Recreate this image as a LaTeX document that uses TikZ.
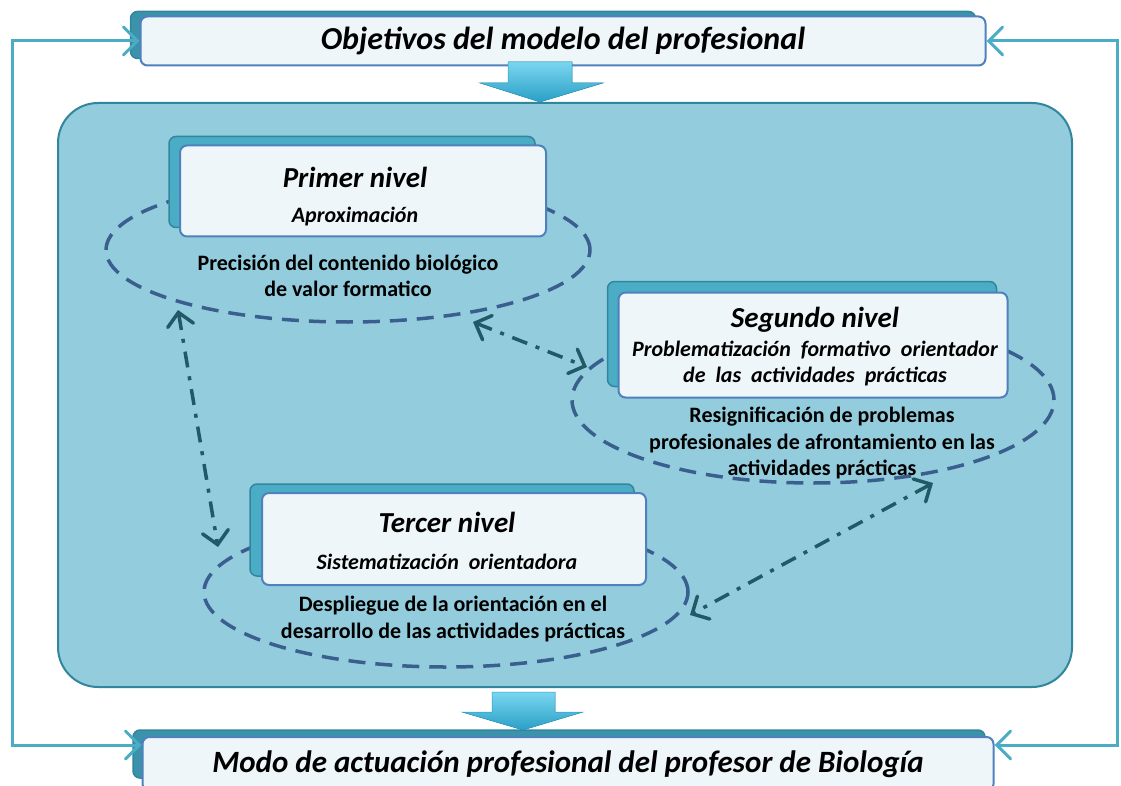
\documentclass[tikz,border=0pt]{standalone}
\usepackage{fontspec}
\setmainfont{Carlito}
\usetikzlibrary{arrows.meta,shapes.geometric,calc}

\definecolor{fondoazul}{HTML}{93CDDD}
\definecolor{bordeteal}{HTML}{31859C}
\definecolor{tealmedio}{HTML}{4BACC6}
\definecolor{tealsombra}{HTML}{3A93AA}
\definecolor{azulcaja}{HTML}{4F81BD}
\definecolor{blanco}{HTML}{EEF6FA}
\definecolor{azulelipse}{HTML}{3A5F8F}
\definecolor{tealoscuro}{HTML}{215968}
\definecolor{cian}{HTML}{4BACC6}
\definecolor{cianclaro}{HTML}{7AD6F0}
\definecolor{cianfuerte}{HTML}{2A9FC6}

\begin{document}
\begin{tikzpicture}[x=1pt,y=-1pt,
	marco/.style={draw=bordeteal, line width=2pt, fill=fondoazul, rounded corners=40pt},
	sombra/.style={draw=bordeteal, line width=1.5pt, fill=tealmedio, rounded corners=7pt, inner sep=0pt},
	sombraext/.style={sombra, fill=tealsombra},
	caja/.style={draw=azulcaja, line width=2pt, fill=blanco, rounded corners=7pt, inner sep=0pt},
	elipse/.style={draw=azulelipse, line width=3.5pt, dash pattern=on 17pt off 10pt, ellipse, inner sep=0pt},
	enlace/.style={draw=tealoscuro, line width=3.5pt, dash pattern=on 16pt off 9pt on 4pt off 9pt,
		{Straight Barb[length=13pt,width=26pt,line cap=round]}-{Straight Barb[length=13pt,width=26pt,line cap=round]}},
	retro/.style={draw=cian, line width=3pt,
		{Straight Barb[length=14pt,width=28pt,line cap=round]}-{Straight Barb[length=14pt,width=28pt,line cap=round]}},
	flecha/.style={top color=cianclaro, bottom color=cianfuerte, draw=cianfuerte, line width=.5pt},
	titulo/.style={font=\fontsize{32}{36}\selectfont\bfseries\itshape},
	nivel/.style={font=\fontsize{29}{33}\selectfont\bfseries\itshape},
	sub/.style={font=\fontsize{22}{26}\selectfont\bfseries\itshape, align=center},
	texto/.style={font=\fontsize{22}{26.5}\selectfont\bfseries, align=center}
	]
	\useasboundingbox (0,0) rectangle (1121,786);

	\node[marco, minimum width=1014pt, minimum height=584pt] (marco) at (565,395) {};

	\node[sombraext, minimum width=845pt, minimum height=47pt] (objetivosF) at (553,35) {};
	\node[caja, minimum width=845pt, minimum height=49pt, titulo] (objetivos) at (563,41) {Objetivos del modelo del profesional};

	\node[sombraext, minimum width=852pt, minimum height=48pt] (modoF) at (559,754) {};
	\node[caja, minimum width=851pt, minimum height=54pt, titulo, font=\fontsize{31}{35}\selectfont\bfseries\itshape] (modo) at (568,764) {Modo de actuación profesional del profesor de Biología};

	\fill[flecha] (508,62) -- (572,62) -- (572,83) -- (603,83) -- (540,102) -- (480,83) -- (508,83) -- cycle;
	\fill[flecha] (492,692) -- (555,692) -- (555,712) -- (583,712) -- (523,730) -- (462,712) -- (492,712) -- cycle;

	\coordinate (izq) at (12,400);
	\coordinate (der) at (1117,400);
	\coordinate (modoIzq) at ([yshift=19pt]modo.west);
	\coordinate (modoDer) at ([yshift=19pt]modo.east);
	\draw[retro] (objetivos.west) -| (izq) |- (modoIzq);
	\draw[retro] (objetivos.east) -| (der) |- (modoDer);

	\node[elipse, minimum width=484pt, minimum height=144pt] (elipA) at (348,250) {};
	\node[elipse, minimum width=482pt, minimum height=166pt] (elipB) at (813,400) {};
	\node[elipse, minimum width=484pt, minimum height=150pt] (elipC) at (446,592) {};

	\node[sombra, minimum width=366pt, minimum height=91pt] (primerF) at (352,182) {};
	\node[caja, minimum width=366pt, minimum height=91pt] (primer) at (363,191) {};
	\node[nivel] (primerT) at (355,177) {Primer nivel};
	\node[sub] (primerS) at (355,217) {Aproximación};
	\node[texto] (primerX) at (348,276) {Precisión del contenido biológico\\de valor formatico};

	\node[sombra, minimum width=389pt, minimum height=105pt] (segundoF) at (802,334) {};
	\node[caja, minimum width=389pt, minimum height=105pt] (segundo) at (813,345) {};
	\node[nivel] (segundoT) at (815,320) {Segundo nivel};
	\node[sub] (segundoS) at (815,364) {Problematización \ formativo \ orientador\\de \ las \ actividades \ prácticas};
	\node[texto] (segundoX) at (822,443) {Resignificación de problemas\\profesionales de afrontamiento en las\\actividades prácticas};

	\node[sombra, minimum width=384pt, minimum height=92pt] (tercerF) at (442,530) {};
	\node[caja, minimum width=384pt, minimum height=92pt] (tercer) at (454,539) {};
	\node[nivel] (tercerT) at (447,522) {Tercer nivel};
	\node[sub] (tercerS) at (447,562) {Sistematización \ orientadora};
	\node[texto] (tercerX) at (453,619) {Despliegue de la orientación en el\\desarrollo de las actividades prácticas};

	\coordinate (a1) at (178,310);
	\coordinate (c1) at (218,547);
	\coordinate (a2) at (473,322);
	\coordinate (b2) at (587,367);
	\coordinate (b3) at (933,483);
	\coordinate (c3) at (690,615);
	\draw[enlace] (a1) -- (c1);
	\draw[enlace] (a2) -- (b2);
	\draw[enlace] (b3) -- (c3);
\end{tikzpicture}
\end{document}
